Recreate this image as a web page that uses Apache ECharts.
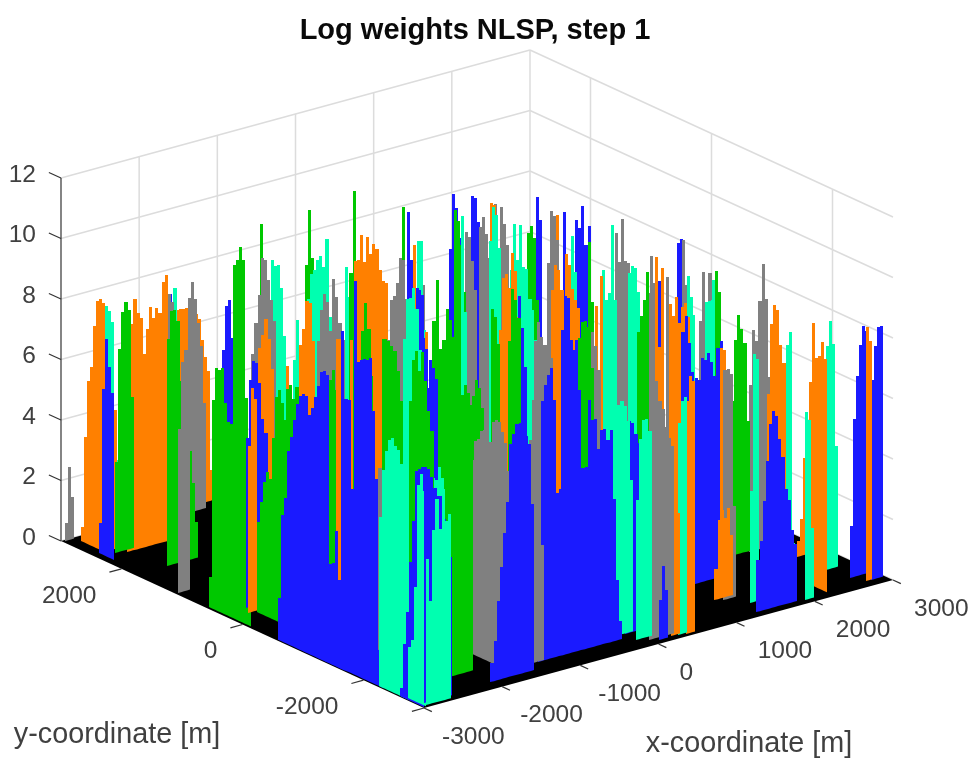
<!DOCTYPE html>
<html>
<head>
<meta charset="utf-8">
<style>html,body{margin:0;padding:0;background:#fff}#chart{width:974px;height:758px}</style>
<script src="https://cdn.jsdelivr.net/npm/echarts@6/dist/echarts.min.js"></script>
</head>
<body>
<div id="chart"></div>
<script>
// Tick values
const xTicks = [-3000,-2000,-1000,0,1000,2000,3000];
const yTicks = [-2000,0,2000];
const zTicks = [0,2,4,6,8,10,12];
const titleText = 'Log weights NLSP, step 1';
const xName = 'x-coordinate [m]';
const yName = 'y-coordinate [m]';

// Rows of bars: [x start m, y start m, row direction (0 along +x, 1 along -y), [log weights]]
const grayRows = [
[-2974,2975,0,[0.6,2.4,1.4]],[-1827,2856,0,[4.6,7.2,7.4,7.1]],[-1537,2849,0,[5.4,7.1,7.6,7,6.2,5.4,3.5]],
[-2970,1109,0,[5.4,7.6,7.8,7.5]],[-1542,1739,0,[6.3,7.3,8.2,9.4,9.3,8.6,7.9,7.2]],
[-843,1563,0,[6.4,7.4,7.9,7.6,6.6,8.3,7.7,6.8,6.2]],[-369,1018,0,[6.6,7.9,8,8.4,9.2,9.1,7.8]],
[99,1091,0,[8.4,8]],[610,988,0,[9.5,9.3,8.5,7.5]],[546,676,0,[10,10.3,9.7,8.9]],[803,660,0,[10.5,9.9,9.2]],
[755,697,0,[10.6]],[1093,257,0,[8.8,10.5,10.3,9.5]],[-581,-1693,0,[9.2,9.8,9.3,9,8.8,8.5]],[-122,-2044,0,[9.5,9,8.2]],
[1114,-837,0,[10.8,9.8,11.2,9.8,9.7,8.5]],[1371,-1034,0,[8.8,10,9.1,8.9]],[1700,-927,0,[9]],[2003,-800,0,[9.9,8.4,7.1]],
[2315,-680,0,[6.9,8.5,6.9,8.4,6.9]],[1289,-2408,0,[7.6,7.6,7.4,3]],[2332,-1483,0,[5.5,7.3,6.9,8.2,9.4,8.2,5.6]],
[-2353,-1412,0,[6,5]],[-1672,-2006,1,[3.4,6.4,7.1,7.2,7.5,7.6,7.6,7.3,8,8.1,8.1,7.8,7.5,6.6]],
[-1434,-2656,0,[5.5,7.4,8.7,8.1,6.6,3.8]],[-7,-2852,0,[7.9,8.4,8.5,7.8,7.5,6.9,6.5,6.2]]
];
const orangeRows = [
[-2838,2877,1,[0.5,3.5,5.4,5.9,7.3,8.2,8.3,8.2,8,7.5,5.5]],[-2755,2489,0,[4.6,4.6]],
[-2661,2345,0,[6.3,7.5,8.3,7.8,7.6,6.4,7.2,7.9,7.5,7.8,7.6,8.6,8.8]],
[-1622,2986,0,[6.4,6.5,6.6,6.6,6.6,6.6,6.6,6.5,6.3,6.1,5.4,4.8,4.3,1]],[-1749,1358,0,[7,7.4,7.9,7.2,6.2]],
[-2758,228,0,[5.5,7.4,7]],[-1524,1185,0,[6.4]],[-1419,1105,0,[7.1,7.6,8.5,8.4,7.1,5]],[-1823,-22,0,[8.6,8.6]],[-1885,-334,0,[8.9]],
[-634,1222,0,[9.2,9.2,10,9.1,9.9,9.3,9.6,9.4,8.7,8.3,8.2,6.3]],[-1700,-475,0,[10.2,10.5,10.2]],[15,1083,0,[9.4]],
[-756,-121,0,[8.2]],[635,608,0,[10.8,10.7]],[516,160,0,[8.4,9.6,9]],[-512,-1027,0,[8.9,10.6,10.7,10.2,9.9,9.2]],
[1165,202,0,[10.4]],[712,-529,0,[10.1,9.7,8.9,8.5,8.2]],[-444,-1798,0,[10.9,11.7,11.5,10.8]],[260,-1619,0,[9.7]],
[818,-970,0,[9.7]],[1435,-1084,0,[10,7,9.6]],[1198,-1619,0,[9.1,8.7,9.3,8.4,8.9,9,8.5]],[240,-2898,0,[4.3,4.3,4]],
[395,-2945,0,[7.7,8.5,8.3]],[1433,-2159,0,[8,7.9]],[1217,-2353,0,[1,2.6,2.9,2.6,2.9,2]],
[2161,-1998,0,[5.8,8.1,8.7,8.5,7.3,6.7,4.9]],[2630,-1891,0,[0.5,1.2,3.2,3.2]],[2253,-2572,1,[6.7,8.7,7.6,7.7,8.2,7.7]],
[2764,-2857,0,[8.4,7.9]]
];
const blueRows = [
[-2904,2496,1,[1,5.5,7.2,6.3,5.5]],[-1683,2925,0,[7.3,6.8,5]],[-2388,1130,0,[7.6,9,9.2,7.9]],[-2686,353,0,[5.6,7.5,8.1,8,7.3,6.1,5.6]],
[-2980,-560,1,[1.4,4.2,4.8,6.4,6.9,7.5,8.1,8.4,8.5,8.5,7.9,8.2,8.6,9,9.5,9.6,9.5,3.3,3.4,4.5,2.9,11.2,9,9,6.1,9.1,10.4,10.5,10.6,10.6,10.7,9,6.8,6.9,6]],
[-2983,-2582,1,[0.3,1.8,2.9,4.6,6,7.7,7.8,7.9]],[-2912,-2888,0,[7.8,7.7,7.4,7,6.7,6.7,5.9,5.3,4.6]],
[-33,1120,0,[10.5,8.9,8.5,7.9,7.5,6.2]],[-977,766,0,[9.2]],[-987,-303,0,[9.9,9.7,7.9,6.3]],[-1099,-575,0,[7,7.9,7.6,7.2]],
[457,1105,0,[6.6,8.9,10.7,10.2,9.2,7.2]],[721,1082,0,[7.1,10.5,10.4,9.6,9.2,8.5,8.1,7.6]],[-709,-1594,0,[10.7,9.6,8.3]],
[1004,325,0,[11,10.2]],[1222,158,0,[10.5]],[1494,309,0,[9.9,9.6,10.3,9,9.6]],[-540,-2084,0,[9.9,11,10.9,9.5,9]],
[1459,-1102,0,[9.2]],[1963,-769,0,[9.8,9.9]],[1127,-1924,0,[8.5,9,8.1,7.1]],[1337,-1869,0,[6.8,6.7,7.4,7.3,7.5,7.2,6.7,7.6,7.8,7.4]],
[-2013,-2822,0,[0.6,1.3,2.6,3.7,4.8,5.8,7.7,8,8.3,8.3,8.2,7.8,7.5,5.5]],
[-1285,-2662,0,[6,8.6,9.1,9.4,9.6,8.5,5.4,5.5,5.3,9.1,9.4,10,10.3,8.6,6,6,8.2,7.5,7.5,6.5,7.1,7.1,6.7,7,4.7,2,0.6]],
[-95,-2569,0,[7,7,6.9,6.5,6.2]],[73,-2914,0,[1.3,2.4,1.6]],[1344,-2882,0,[1.7,2.3,3.6,4.9,6.1,6.5,6.3,5.5,4.9,3.8,3.4,2.4,1.9]],
[2688,-2690,0,[1.7,5.2,6.6,7.6,8.2,8,5.8]],[2822,-2864,0,[6.6,7.7,8.3,8.3]]
];
const greenRows = [
[-2775,2397,0,[3,6.7,7.9,8.2,7.9,5]],[-2585,1784,0,[7.5,8.4,8.4,8,6,6.6,6.5,3.6,2.5,1.2]],
[-2966,603,1,[1,6.9,8,8,8.1,7,6.4,6.4,11.7,11.9,12.4,12,7.5,1]],[-1470,1684,0,[10.6]],
[-2668,195,1,[3,3.7,4.4,4.8,4.6,6,7.4,7.7,7.3,6.5]],[-2073,529,0,[5.6,6.6,6.7,6.2,6.6,5.8,5.1]],[-677,1974,0,[8.4,10.2,8.6]],
[-1927,58,0,[5.6,6.6,7.2,7.5,6.8]],[-666,1247,0,[8.8,11.5]],[-1096,499,0,[7.9,8.8,7.9,6.3]],[-248,926,0,[11]],
[-350,285,0,[7.9,9.2,6.9]],[-643,-207,0,[6.6,7.9,8.9,8.5,7.9]],[433,944,0,[10.4,10,9.2,7.6]],[-1461,-300,0,[8.6,8.6,8.5,8.3,8.1,7.4,6.4]],
[-1937,-1372,0,[7.9,9.2,9.5,8.8,9.4,8.4,7.4,6.7]],[-2305,-2455,0,[8.8,9,9.3,9.5,9.1,9.2,9.5,9.2,8.8]],
[-1279,-1517,0,[6.6,7.7,8.2,7.9,7.2]],[932,380,0,[9.8,10,9.6,7.5]],[1423,4,0,[9.5,7.5]],[-790,-1533,0,[9.2,10.9,10.5,9.9]],
[-1102,-1653,0,[10.6,10.3,9.4]],[-227,-1964,0,[9.3,9.8,9.8,9.6,8.2]],[940,-1422,0,[8.2,8.7,9.2,10.1]],[2093,-1229,0,[9.2,8.5]],
[2117,-1462,0,[5.1,7.1,7.9,7.4,6.9,4.3]]
];
const tealRows = [
[-2768,2571,0,[8,7.8,7.4,2.8]],[-1643,2894,0,[7.5,5.5]],[-1325,1752,0,[6,9.2,9,9,8.2,6.6]],[-1468,1142,0,[6.6,7.9]],
[-861,1755,0,[6.6,7.6,8.4,8.5,8.8,8.9,8.5,9.4,6.8]],[-642,1409,0,[3.8,8.8,7.8,6.9]],[24,1077,0,[7.6,9.5,9.5,6.5]],
[-1284,-435,0,[8.6,9.9,9.9,10.2,9.5,8.1]],[489,900,0,[10.2,7]],[540,503,0,[9.7,10.8,10.5,9.4]],[620,260,0,[8.9,10.4,9.2,10.3,8.9,8.8,7.8]],
[-311,-1181,0,[10.2,9.9,9.5,8.5]],[1286,109,0,[9.7,8.5]],[834,-981,0,[9.9,8.9,9.1,11.3,8.8]],[1043,-1141,0,[9.8,10,9.9,9.1]],
[2012,-1167,0,[8.2,8.2,8.2]],[2069,-1210,0,[8.9]],[1295,-1874,0,[8.9]],[1446,-2636,0,[3.7,8.2,8]],[2226,-2228,0,[7.6,8,1]],
[1940,-2908,0,[6.2,5.9,2.3]],[2635,-2362,0,[7.4,8.2,7.4,4]],[-2976,-2228,1,[5.6,7.2,7.9,8.3,8.4,8.2,8.1,7.7,7.6,6]],
[-2954,-2676,1,[1.7,2,3.8,7.2,7.6,7.1]],[-2931,-2945,0,[4.8,3.4,5.7,6.7,5.7,7,5.9,6.1]],[-1800,-1477,0,[5.7,5.6,5.3,5.2,5.6,5.2]],
[-302,-2554,0,[6.5,7.5,7.6,7.6,7.7,7.5,7,5]],[-112,-2772,0,[4.6,6.6,7.2,7.2,6.8]],[314,-2918,0,[7,7.7,7.8]],[2043,-831,0,[8.7,8]]
];

const palette = {gray:'#808080',orange:'#ff8000',blue:'#1a1aff',green:'#00c800',teal:'#00ffb0'};
const FONT = '"Liberation Sans", Arial, sans-serif';

// Orthographic view of the box onto the page plane
function proj(x,y,z){
  const a=(x+3000)/6000, b=(y+3000)/6000;
  return [424+469*a-363*b, 708-128*a-167*b-30.25*z];
}
const XSTEP=40, YSTEP=50;

const rows=[];
[['gray',grayRows],['orange',orangeRows],['blue',blueRows],['green',greenRows],['teal',tealRows]].forEach(([c,list])=>{
  list.forEach(r=>rows.push({color:c,x:r[0],y:r[1],dir:r[2],h:r[3]}));
});
rows.forEach(r=>r.depth=proj(r.x,r.y,0)[1]);
rows.sort((p,q)=>p.depth-q.depth);

const barData=[], barColors=[];
rows.forEach(r=>r.h.forEach((z,i)=>{
  const x0=r.dir===0? r.x+i*XSTEP : r.x, x1=r.dir===0? r.x+(i+1)*XSTEP : r.x;
  const y0=r.dir===0? r.y : r.y-i*YSTEP, y1=r.dir===0? r.y : r.y-(i+1)*YSTEP;
  barData.push([x0,y0,x1,y1,z]); barColors.push(palette[r.color]);
}));

// Wall grid and axes segments, built from tick arrays
const gridSegs=[], axisSegs=[];
zTicks.forEach(z=>{
  gridSegs.push([-3000,3000,z,3000,3000,z]);
  gridSegs.push([3000,3000,z,3000,-3000,z]);
  axisSegs.push([-3000,3000,z,-3000,3200,z]);
});
xTicks.slice(1).forEach(x=>gridSegs.push([x,3000,0,x,3000,12]));
yTicks.forEach(y=>gridSegs.push([3000,y,0,3000,y,12]));
axisSegs.push([-3000,3000,0,-3000,3000,12]);
xTicks.forEach(x=>axisSegs.push([x,-3000,0,x,-3130,0]));
yTicks.concat([-3000]).forEach(y=>axisSegs.push([-3000,y,0,-3155,y,0]));

function segSeries(data,color,width,z){
  return {type:'custom',coordinateSystem:'cartesian2d',silent:true,clip:false,z:z,animation:false,
    encode:{x:0,y:1},data:data,
    renderItem:(p,api)=>{
      const a=api.coord(proj(api.value(0),api.value(1),api.value(2)));
      const b=api.coord(proj(api.value(3),api.value(4),api.value(5)));
      return {type:'line',shape:{x1:a[0],y1:a[1],x2:b[0],y2:b[1]},style:{stroke:color,lineWidth:width}};
    }};
}
function textSeries(data,place,opt,z){
  return {type:'custom',coordinateSystem:'cartesian2d',silent:true,clip:false,z:z||20,animation:false,
    encode:{x:0,y:0},data:data.map((v,i)=>[i]),
    renderItem:(p,api)=>{
      const v=data[api.value(0)], pos=place(v);
      return {type:'text',x:pos[0],y:pos[1],style:Object.assign({text:String(v),fontFamily:FONT,fill:'#404040',textVerticalAlign:'middle',verticalAlign:'middle'},opt)};
    }};
}

const chart=echarts.init(document.getElementById('chart'),null,{renderer:'canvas'});
chart.setOption({
  animation:false,
  backgroundColor:'#ffffff',
  title:{text:titleText,left:470,top:11,textAlign:'center',textStyle:{fontFamily:FONT,fontSize:29,fontWeight:'bold',color:'#0a0a0a'}},
  grid:{left:0,right:0,top:0,bottom:0},
  xAxis:{type:'value',min:0,max:974,show:false},
  yAxis:{type:'value',min:0,max:758,inverse:true,show:false},
  series:[
    segSeries(gridSegs,'#dcdcdc',1.5,1),
    {type:'custom',coordinateSystem:'cartesian2d',silent:true,clip:false,z:2,animation:false,encode:{x:0,y:1},
      data:[[-3000,-3000]],
      renderItem:(p,api)=>{
        const pts=[[-3000,-3000],[3000,-3000],[3000,3000],[-3000,3000]].map(c=>api.coord(proj(c[0],c[1],0)));
        return {type:'polygon',shape:{points:pts},style:{fill:'#000'}};
      }},
    {type:'custom',coordinateSystem:'cartesian2d',silent:true,clip:false,z:3,animation:false,progressive:0,
      encode:{x:0,y:1},data:barData,
      renderItem:(p,api)=>{
        const x0=api.value(0),y0=api.value(1),x1=api.value(2),y1=api.value(3),z=api.value(4);
        const b0=api.coord(proj(x0,y0,0)),b1=api.coord(proj(x1,y1,0));
        const t0=api.coord(proj(x0,y0,z)),t1=api.coord(proj(x1,y1,z));
        const L=Math.round(b0[0]),R=Math.round(b1[0]),top=Math.round((t0[1]+t1[1])/2);
        const pts=[[L,b0[1]],[R,b1[1]],[R,top],[L,top]];
        return {type:'polygon',shape:{points:pts},style:{fill:barColors[p.dataIndex]}};
      }},
    segSeries(axisSegs,'#333333',1.2,4),
    textSeries(zTicks,z=>{const q=proj(-3000,3000,z);return [36,q[1]-3];},{fontSize:24.5,align:'right',textAlign:'right'}),
    textSeries(xTicks,x=>{const q=proj(x,-3000,0);return [q[0]+(x<0?18:21),q[1]+29];},{fontSize:24.5,align:'left',textAlign:'left'}),
    textSeries(yTicks,y=>{const q=proj(-3000,y,0);return [q[0]-25,q[1]+27];},{fontSize:24.5,align:'right',textAlign:'right'}),
    textSeries([xName],()=>[749,744],{fontSize:28.8,align:'center',textAlign:'center'}),
    textSeries([yName],()=>[117,735],{fontSize:28.8,align:'center',textAlign:'center'})
  ]
});
</script>
</body>
</html>
